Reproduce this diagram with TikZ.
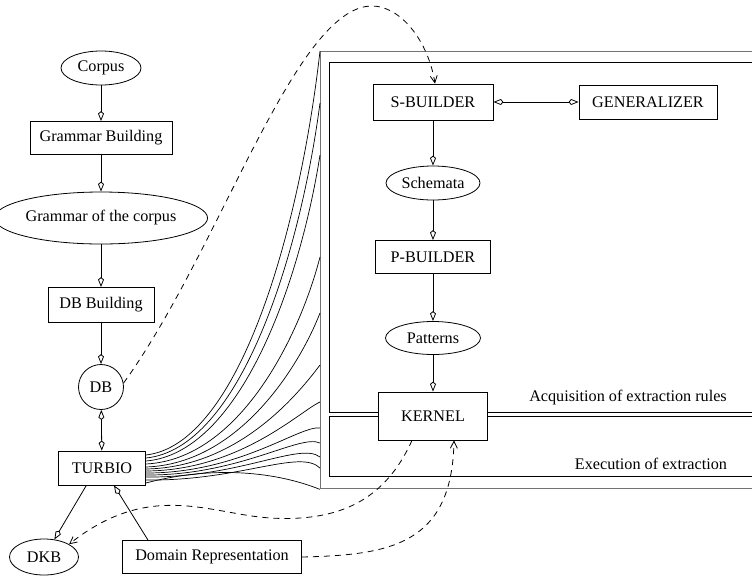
\documentclass[tikz,border=0pt]{standalone}
\usepackage{fontspec}
\setmainfont{Liberation Serif}
\usetikzlibrary{arrows.meta,shapes.geometric,calc}
\begin{document}
\begin{tikzpicture}[x=1pt,y=-1pt,
  every node/.style={font=\fontsize{16.2}{19}\selectfont, inner sep=0pt},
  box/.style={draw, line width=0.8pt, fill=white, rectangle},
  oval/.style={draw, line width=0.8pt, fill=white, ellipse},
  kite/.tip={Kite[open,length=10pt,width=6pt,inset=2.5pt]},
  flow/.style={line width=0.8pt, -kite},
  twoway/.style={line width=0.8pt, kite-kite},
  dashlink/.style={line width=0.8pt, dash pattern=on 6pt off 5pt,
    -{Straight Barb[length=7pt,width=7pt]}},
  fan/.style={line width=0.7pt},
  frameout/.style={draw=black!55, line width=1.4pt, rectangle, anchor=north west},
  framein/.style={draw=black, line width=0.9pt, rectangle, anchor=north west},
]
\useasboundingbox (0,0) rectangle (752,579);
\clip (0,0) rectangle (752,579);

% frames of the rule engine (they run past the right edge)
\node[frameout, minimum width=470pt, minimum height=437pt] (outer) at (320,51) {};
\node[framein, minimum width=460pt, minimum height=350pt] (acqframe) at (329,62) {};
\node[framein, minimum width=460pt, minimum height=60pt] (exeframe) at (329,416) {};
\node (acq) at (628,398) {Acquisition of extraction rules};
\node (exe) at (651,464) {Execution of extraction};

% left column
\node[oval, minimum width=80pt, minimum height=34pt] (corpus) at (101,68) {Corpus};
\node[box, minimum width=142pt, minimum height=33pt] (gb) at (101,138) {Grammar Building};
\node[oval, minimum width=177pt, minimum height=52pt] (gc) at (101,218) {Grammar of the corpus};
\node[box, minimum width=106pt, minimum height=35pt] (dbb) at (101,305) {DB Building};
\node[circle, draw, line width=0.8pt, minimum size=45pt] (db) at (101,387) {DB};
\node[box, minimum width=87pt, minimum height=34pt] (turbio) at (102,468) {TURBIO};
\node[oval, minimum width=69pt, minimum height=36pt] (dkb) at (44,557) {DKB};
\node[box, minimum width=179pt, minimum height=33pt] (dr) at (212,557) {Domain Representation};

% right column
\node[box, minimum width=120pt, minimum height=36pt] (sb) at (433,102) {S-BUILDER};
\node[box, minimum width=138pt, minimum height=34pt] (gen) at (648,102) {GENERALIZER};
\node[oval, minimum width=94pt, minimum height=34pt] (sch) at (433,183) {Schemata};
\node[box, minimum width=115pt, minimum height=33pt] (pb) at (433,257) {P-BUILDER};
\node[oval, minimum width=95pt, minimum height=33pt] (pat) at (433,338) {Patterns};
\node[box, minimum width=109pt, minimum height=48pt] (kernel) at (433,416) {KERNEL};

% solid connectors
\draw[flow] (corpus) -- (gb);
\draw[flow] (gb) -- (gc);
\draw[flow] (gc) -- (dbb);
\draw[flow] (dbb) -- (db);
\draw[twoway] (db) -- (turbio);
\draw[flow] (turbio.228) -- (dkb);
\draw[flow] ($(dr.north)+(-64,0)$) -- ($(turbio.south)+(12,0)$);
\draw[twoway] (sb) -- (gen);
\draw[flow] (sb) -- (sch);
\draw[flow] (sch) -- (pb);
\draw[flow] (pb) -- (pat);
\draw[flow] (pat) -- (kernel);

% fan of links from TURBIO into the frame
\foreach \ys/\ye in {-13/0, -10/52, -7/104, -4/206, -1/262, 1/314, 3/351, 5/377, 7/392, 9/406, 12/417} {
  \pgfmathsetmacro{\rise}{(417+\ys)-(51+\ye)}
  \draw[fan] ($(turbio.east)+(0,\ys)$)
    .. controls +(94,-0.03*\rise) and +(-20,0.5*\rise) .. ($(outer.north west)+(0,\ye)$);
}
\draw[fan] ($(turbio.east)+(0,15)$)
  .. controls +(60,-16) and +(-50,-20) .. (outer.south west);

% dashed links
\coordinate (arc) at (372,6);
\coordinate (dip) at (270,518);
\draw[dashlink] (db.10) .. controls (220,250) and (295,6) .. (arc)
  .. controls (400,6) and (428,40) .. ($(sb.north)+(2,0)$);
\draw[dashlink] ($(kernel.south)+(-21,0)$) .. controls (385,500) and (340,522) .. (dip)
  .. controls (210,514) and (150,480) .. (dkb.27);
\draw[dashlink] (dr.east) .. controls (390,555) and (452,545) .. ($(kernel.south)+(21,0)$);
\end{tikzpicture}
\end{document}
